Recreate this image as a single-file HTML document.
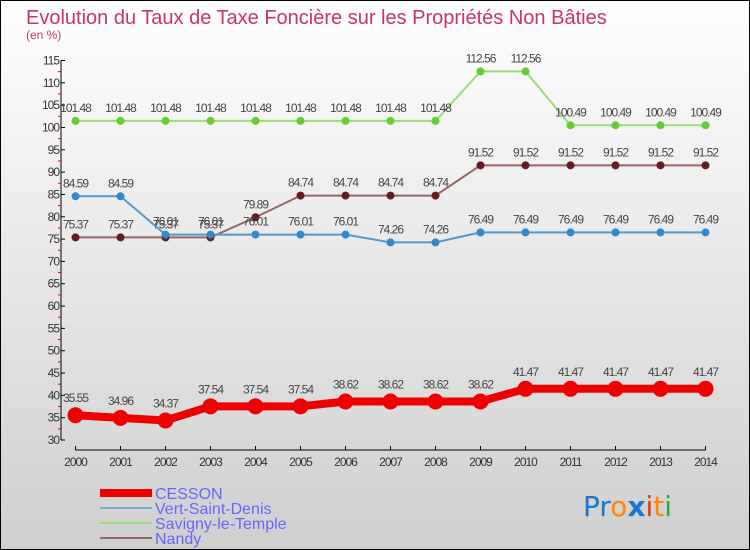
<!DOCTYPE html>
<html><head><meta charset="utf-8"><style>
body{margin:0;width:750px;height:550px;overflow:hidden}
svg{display:block;font-family:"Liberation Sans",sans-serif}
</style></head><body>
<svg id="c" width="750" height="550">
<defs><linearGradient id="bg" x1="0" y1="0" x2="0" y2="1"><stop offset="0" stop-color="#ffffff"/><stop offset="1" stop-color="#cfcfcf"/></linearGradient></defs>
<rect x="0.5" y="0.5" width="749" height="549" fill="url(#bg)" stroke="#000"/>
<text x="26" y="24" font-size="20" fill="#cc3366">Evolution du Taux de Taxe Foncière sur les Propriétés Non Bâties</text>
<text x="26" y="39" font-size="12" fill="#cc3366">(en %)</text>
<g id="axes"></g><g id="series"></g>
<g>
<line x1="100" y1="493" x2="152" y2="493" stroke="#ee0000" stroke-width="8"/>
<text x="155" y="499" font-size="16" fill="#6666ff">CESSON</text>
<line x1="100" y1="508" x2="152" y2="508" stroke="#7aaed6" stroke-width="2"/>
<text x="155" y="514" font-size="16" fill="#6666ff">Vert-Saint-Denis</text>
<line x1="100" y1="523" x2="152" y2="523" stroke="#99dd77" stroke-width="2"/>
<text x="155" y="529" font-size="16" fill="#6666ff">Savigny-le-Temple</text>
<line x1="100" y1="538" x2="152" y2="538" stroke="#996666" stroke-width="2"/>
<text x="155" y="544" font-size="16" fill="#6666ff">Nandy</text>
</g>
<g font-size="28" font-family="'DejaVu Sans',sans-serif">
<text x="583" y="516"><tspan fill="#1a75cc">Pr</tspan><tspan fill="#ff8800">o</tspan><tspan fill="#1a75cc" font-weight="bold">x</tspan><tspan fill="#ee3311">i</tspan><tspan fill="#ff8800">t</tspan><tspan fill="#33aa33">i</tspan></text>
</g>
</svg>
<script>
const years=["2000","2001","2002","2003","2004","2005","2006","2007","2008","2009","2010","2011","2012","2013","2014"];
const yTicks=[30,35,40,45,50,55,60,65,70,75,80,85,90,95,100,105,110,115];
const cesson=[35.55,34.96,34.37,37.54,37.54,37.54,38.62,38.62,38.62,38.62,41.47,41.47,41.47,41.47,41.47];
const vert=[84.59,84.59,76.01,76.01,76.01,76.01,76.01,74.26,74.26,76.49,76.49,76.49,76.49,76.49,76.49];
const savigny=[101.48,101.48,101.48,101.48,101.48,101.48,101.48,101.48,101.48,112.56,112.56,100.49,100.49,100.49,100.49];
const nandy=[75.37,75.37,75.37,75.37,79.89,84.74,84.74,84.74,84.74,91.52,91.52,91.52,91.52,91.52,91.52];
const NS="http://www.w3.org/2000/svg";
const X=i=>75.5+i*45, Y=v=>440-(v-30)*379.5/85;
function mk(t,a,p){const e=document.createElementNS(NS,t);for(const k in a)e.setAttribute(k,a[k]);p.appendChild(e);return e;}
const ax=document.getElementById('axes');
let e=mk('line',{x1:61,y1:Y(115),x2:61,y2:Y(30),stroke:'#000'},ax);


e=mk('line',{x1:X(0),y1:450,x2:X(14),y2:450,stroke:'#000'},ax);


yTicks.forEach((v,i)=>{
 mk('line',{x1:61,y1:Y(v),x2:65,y2:Y(v),stroke:'#000'},ax);
 if(i<yTicks.length-1) mk('line',{x1:58,y1:Y(v+2.5),x2:61,y2:Y(v+2.5),stroke:'#e00'},ax);
 const t=mk('text',{x:59,y:Y(v)+4,'font-size':12,'text-anchor':'end',fill:'#333','letter-spacing':'-1'},ax);
 t.textContent=v;
 
 
});
years.forEach((y,i)=>{
 mk('line',{x1:X(i),y1:446,x2:X(i),y2:450,stroke:'#000'},ax);
 const t=mk('text',{x:X(i),y:466,'font-size':12,'text-anchor':'middle',fill:'#333','letter-spacing':'-1'},ax);
 t.textContent=y;
 
 
});
const sg=document.getElementById('series');
function series(name,vals,color,dot,w,r){
 const g=mk('g',{},sg);
 
 
 const p=mk('polyline',{points:vals.map((v,i)=>X(i)+','+Y(v)).join(' '),fill:'none',stroke:color,'stroke-width':w},g);
 
 
 vals.forEach((v,i)=>{
  const c=mk('circle',{cx:X(i),cy:Y(v),r:r,fill:dot},g);
  
  
  const t=mk('text',{x:X(i),y:Y(v)-(r+5),'font-size':12,'text-anchor':'middle',fill:'#444','letter-spacing':'-1'},g);
  t.textContent=v.toFixed(2);
  
  
 });
}
series('savigny-le-temple',savigny,'#99dd77','#66cc33',2,4);
series('nandy',nandy,'#996666','#661a22',2,4);
series('vert-saint-denis',vert,'#5599cc','#3388cc',2,4);
series('cesson',cesson,'#ee0000','#ee0000',8,8);
</script>
</body></html>
